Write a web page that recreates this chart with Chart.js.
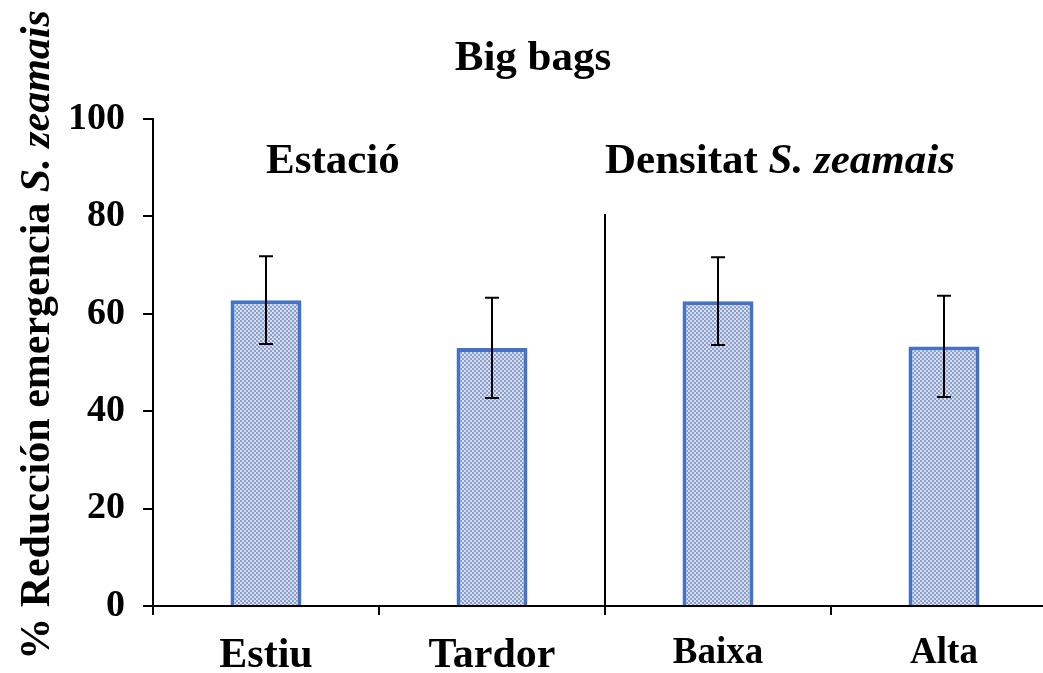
<!DOCTYPE html>
<html>
<head>
<meta charset="utf-8">
<script src="https://cdn.jsdelivr.net/npm/chart.js@4"></script>
<style>
  html, body { margin: 0; padding: 0; background: #fff; overflow: hidden; width: 1043px; height: 673px; }
  canvas { display: block; }
</style>
</head>
<body>
<canvas id="c" width="1060" height="673"></canvas>
<script>
// Treatments and their mean reduction (%) with error bars
const categories = ['Estiu', 'Tardor', 'Baixa', 'Alta'];
const values = [62.8, 53.0, 62.6, 53.3];
const errors = [9.0, 10.3, 9.0, 10.4];
const yTicks = [0, 20, 40, 60, 80, 100];
const groupLabels = ['Estació', 'Densitat'];

const SERIF = '"Liberation Serif", "DejaVu Serif", serif';

// Fine checkered fill for the bars
function makePattern() {
  const p = document.createElement('canvas');
  p.width = 4; p.height = 4;
  const g = p.getContext('2d');
  g.fillStyle = '#d6def0';
  g.fillRect(0, 0, 4, 4);
  g.fillStyle = '#8a9fca';
  g.fillRect(0, 0, 2, 2);
  g.fillRect(2, 2, 2, 2);
  return g.createPattern(p, 'repeat');
}

const overlay = {
  id: 'overlay',
  afterDatasetsDraw(chart) {
    const { ctx, scales: { x, y }, chartArea } = chart;
    ctx.save();
    // error bars
    ctx.strokeStyle = '#000';
    ctx.lineWidth = 2;
    values.forEach((v, i) => {
      const px = x.getPixelForValue(i);
      const top = y.getPixelForValue(v + errors[i]);
      const bot = y.getPixelForValue(v - errors[i]);
      ctx.beginPath();
      ctx.moveTo(px, top); ctx.lineTo(px, bot);
      ctx.moveTo(px - 7, top); ctx.lineTo(px + 7, top);
      ctx.moveTo(px - 7, bot); ctx.lineTo(px + 7, bot);
      ctx.stroke();
    });
    // divider between the two factor groups
    const xd = (x.getPixelForValue(1) + x.getPixelForValue(2)) / 2;
    ctx.beginPath();
    ctx.moveTo(xd, y.getPixelForValue(80.5));
    ctx.lineTo(xd, chartArea.bottom + 9);
    ctx.stroke();

    // group headings
    ctx.fillStyle = '#000';
    ctx.textBaseline = 'middle';
    ctx.textAlign = 'left';
    const gy = y.getPixelForValue(91.2);
    ctx.font = 'bold 43px ' + SERIF;
    ctx.fillText(groupLabels[0], x.getPixelForValue(0), gy);
    let gx = xd;
    ctx.fillText(groupLabels[1] + ' ', gx, gy);
    gx += ctx.measureText(groupLabels[1] + ' ').width;
    ctx.font = 'italic bold 43px ' + SERIF;
    ctx.fillText('S. zeamais', gx, gy);

    // chart title
    ctx.textAlign = 'center';
    ctx.font = 'bold 43px ' + SERIF;
    ctx.fillText('Big bags', 533, 59);

    // vertical axis title with italic species name
    ctx.translate(38, 335);
    ctx.rotate(-Math.PI / 2);
    const partA = '% Reducción emergencia ';
    const partB = 'S. zeamais';
    ctx.font = 'bold 42px ' + SERIF;
    const wA = ctx.measureText(partA).width;
    ctx.font = 'italic bold 42px ' + SERIF;
    const wB = ctx.measureText(partB).width;
    const sx = -(wA + wB) / 2;
    ctx.textAlign = 'left';
    ctx.font = 'bold 42px ' + SERIF;
    ctx.fillText(partA, sx, 0);
    ctx.font = 'italic bold 42px ' + SERIF;
    ctx.fillText(partB, sx + wA, 0);
    ctx.restore();
  }
};

new Chart(document.getElementById('c'), {
  type: 'bar',
  data: {
    labels: categories,
    datasets: [{
      data: values,
      backgroundColor: makePattern(),
      borderColor: '#4472c4',
      borderWidth: 4,
      borderSkipped: 'bottom',
      categoryPercentage: 1,
      barPercentage: 0.314
    }]
  },
  options: {
    responsive: false,
    animation: false,
    layout: { padding: { top: 119, right: 3, left: 0, bottom: 0 } },
    plugins: { legend: { display: false }, tooltip: { enabled: false }, title: { display: false } },
    scales: {
      x: {
        grid: { offset: true, drawOnChartArea: false, drawTicks: true, tickLength: 9, color: '#000', lineWidth: 2 },
        border: { display: true, color: '#000', width: 2 },
        ticks: {
          color: '#000',
          padding: 16,
          maxRotation: 0,
          font: (c) => ({ family: SERIF, weight: 'bold', size: c.index < 2 ? 42 : 37 })
        },
        afterFit(scale) { scale.height = 67; }
      },
      y: {
        min: 0, max: 100,
        afterBuildTicks(scale) { scale.ticks = yTicks.map(v => ({ value: v })); },
        grid: { drawOnChartArea: false, drawTicks: true, tickLength: 10, color: '#000', lineWidth: 2 },
        border: { display: true, color: '#000', width: 2 },
        ticks: {
          color: '#000',
          padding: 18,
          font: { family: SERIF, weight: 'bold', size: 38 }
        },
        afterFit(scale) { scale.width = 153; }
      }
    }
  },
  plugins: [overlay]
});
</script>
</body>
</html>
